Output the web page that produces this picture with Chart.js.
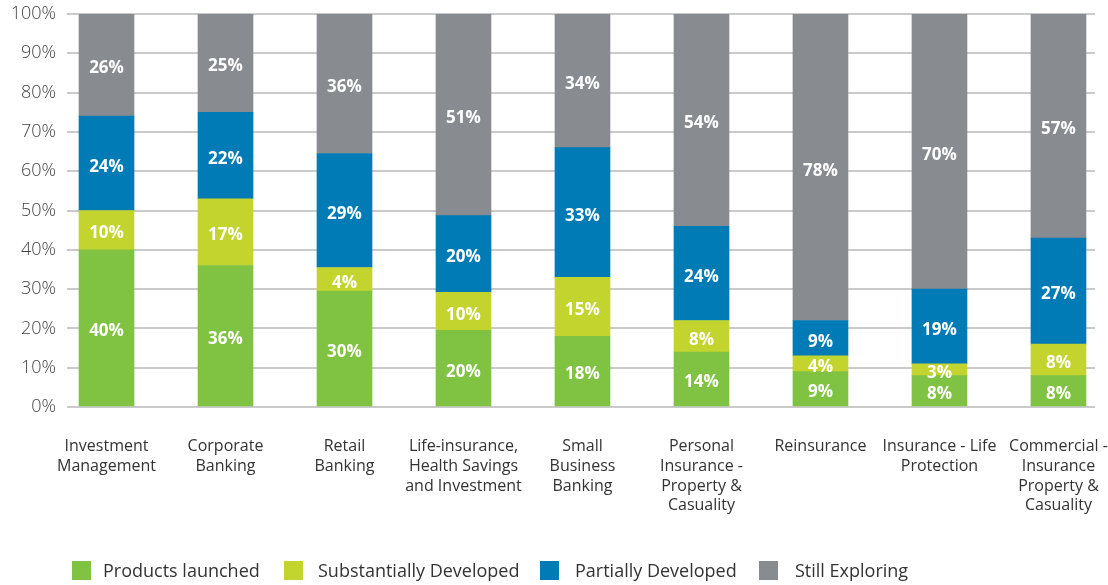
<!DOCTYPE html>
<html><head><meta charset="utf-8">
<script src="https://cdn.jsdelivr.net/npm/chart.js@4/dist/chart.umd.min.js"></script>
<style>
html,body{margin:0;padding:0;background:#fff;}
#wrap{position:relative;width:1108px;height:585px;overflow:hidden;}
#legend{position:absolute;left:0;top:560px;width:1108px;height:22px;font-family:'Open Sans',sans-serif;font-size:18px;color:#333;line-height:20px;white-space:nowrap;}
.box{position:absolute;top:1px;width:19px;height:19px;}
.txt{position:absolute;top:0;}
</style></head><body>
<div id="wrap"><canvas id="c" width="1108" height="585"></canvas><div id="legend"></div></div>
<script>
const categories = [
  ["Investment", "Management"],
  ["Corporate", "Banking"],
  ["Retail", "Banking"],
  ["Life-insurance,", "Health Savings", "and Investment"],
  ["Small", "Business", "Banking"],
  ["Personal", "Insurance -", "Property &", "Casuality"],
  ["Reinsurance"],
  ["Insurance - Life", "Protection"],
  ["Commercial -", "Insurance", "Property &", "Casuality"]
];
const seriesNames = ["Products launched", "Substantially Developed", "Partially Developed", "Still Exploring"];
const seriesColors = ["#80c242", "#c3d42e", "#007bb6", "#888b8f"];

// bar heights (%)
const launched      = [40, 36, 29.5, 19.5, 18, 14, 9, 8, 8];
const substantially = [10, 17, 6,    9.7,  15, 8,  4, 3, 8];
const partially     = [24, 22, 29,   19.5, 33, 24, 9, 19, 27];
const exploring     = [26, 25, 35.5, 51.3, 34, 54, 78, 70, 57];

// printed labels (%)
const launchedLabels      = [40, 36, 30, 20, 18, 14, 9, 8, 8];
const substantiallyLabels = [10, 17, 4, 10, 15, 8, 4, 3, 8];
const partiallyLabels     = [24, 22, 29, 20, 33, 24, 9, 19, 27];
const exploringLabels     = [26, 25, 36, 51, 34, 54, 78, 70, 57];

const yTicks = [0, 10, 20, 30, 40, 50, 60, 70, 80, 90, 100];

const seriesValues = [launched, substantially, partially, exploring];
const seriesLabels = [launchedLabels, substantiallyLabels, partiallyLabels, exploringLabels];

const datasets = seriesNames.map((name, s) => ({
  label: name,
  data: seriesValues[s].map((v, i) => ({x: i, y: v})),
  labelValues: seriesLabels[s],
  backgroundColor: seriesColors[s],
  borderWidth: 0,
  barThickness: 55
}));

const barLabels = {
  id: 'barLabels',
  afterDatasetsDraw(chart) {
    const ctx = chart.ctx;
    ctx.save();
    ctx.font = 'bold 17px "Open Sans"';
    ctx.fillStyle = '#ffffff';
    ctx.textAlign = 'center';
    ctx.textBaseline = 'middle';
    chart.data.datasets.forEach((ds, di) => {
      const meta = chart.getDatasetMeta(di);
      meta.data.forEach((el, i) => {
        const top = Math.max(el.y, chart.chartArea.top);
        const cy = (top + el.base) / 2 + 3.5;
        ctx.fillText(ds.labelValues[i] + '%', el.x, cy);
      });
    });
    ctx.restore();
  }
};

new Chart(document.getElementById('c'), {
  type: 'bar',
  data: { datasets },
  plugins: [barLabels],
  options: {
    responsive: false,
    animation: false,
    devicePixelRatio: 1,
    layout: { padding: { left: 0, right: 13, top: 14, bottom: 0 } },
    plugins: { legend: { display: false }, tooltip: { enabled: false } },
    scales: {
      x: {
        type: 'linear',
        stacked: true,
        offset: false,
        min: -0.332,
        max: 8.307,
        grid: { display: false },
        border: { display: false },
        afterBuildTicks: (s) => { s.ticks = categories.map((_, i) => ({value: i})); },
        afterFit: (s) => { s.height = 178; s.paddingLeft = 0; s.paddingRight = 0; },
        ticks: {
          autoSkip: false, maxRotation: 0, minRotation: 0,
          padding: 22,
          color: '#333',
          font: { family: 'Open Sans', size: 16, lineHeight: 1.23 },
          callback: (v) => categories[v]
        }
      },
      y: {
        stacked: true,
        min: 0, max: 100,
        afterBuildTicks: (s) => { s.ticks = yTicks.map(v => ({value: v})); },
        afterFit: (s) => { s.width = 67; s.paddingTop = 0; s.paddingBottom = 0; },
        grid: { color: '#cacaca', lineWidth: 2, drawTicks: false },
        border: { display: false },
        ticks: {
          padding: 11,
          color: '#444',
          font: { family: 'Open Sans', size: 18, weight: 300 },
          callback: (v) => v + '%'
        }
      }
    }
  }
});

// legend layout (pixel positions of each entry's box and text)
const legendBoxX = [72, 284, 540, 759];
const legendTextX = [103, 318, 575, 795];
const legend = document.getElementById('legend');
seriesNames.forEach((n, s) => {
  const b = document.createElement('div'); b.className = 'box';
  b.style.background = seriesColors[s]; b.style.left = legendBoxX[s] + 'px';
  const t = document.createElement('div'); t.className = 'txt';
  t.textContent = n; t.style.left = legendTextX[s] + 'px';
  legend.appendChild(b); legend.appendChild(t);
});
</script>
</body></html>
